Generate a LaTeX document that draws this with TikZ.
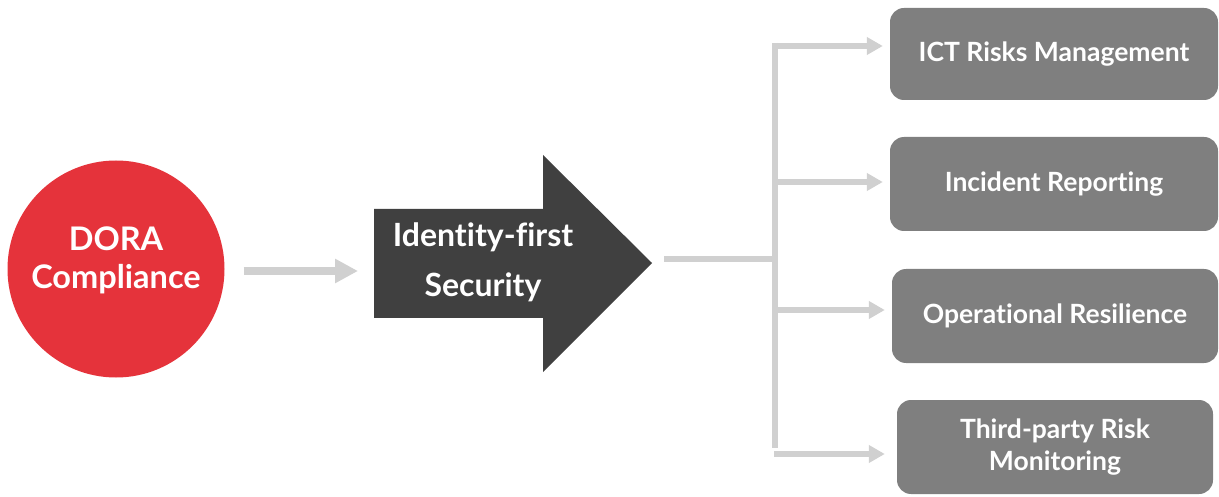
\documentclass[tikz,border=0pt]{standalone}
\usepackage{fontspec}
\setmainfont{Lato}[Ligatures=NoCommon]
\usetikzlibrary{arrows.meta,calc}
\definecolor{dorared}{HTML}{E5333B}
\definecolor{darkarrow}{HTML}{404040}
\definecolor{boxgrey}{HTML}{7F7F7F}
\definecolor{linegrey}{HTML}{D0D0D0}
\begin{document}
\begin{tikzpicture}[x=1pt,y=-1pt,
  conn/.style={draw=linegrey,line width=6pt},
  connarrow/.style={conn,-{Triangle[length=16pt,width=17pt]}},
  itembox/.style={fill=boxgrey,rounded corners=14pt,text=white,font=\bfseries\fontsize{26.5}{32}\selectfont,align=center,inner sep=0pt},
  ]
\useasboundingbox (0,0) rectangle (1219,497);
% circle
\node[circle,fill=dorared,minimum size=217pt,inner sep=0pt] (dora) at (116,269) {};
\node[text=white,align=center,font=\bfseries\fontsize{32.5}{38}\selectfont] (doratext) at (116,260) {DORA\\Compliance};
% big arrow
\fill[darkarrow] (374,209) -- (543,209) -- (543,155) -- (652,263) -- (543,372) -- (543,318) -- (374,318) -- cycle;
\node[text=white,align=center,font=\bfseries\fontsize{32}{50}\selectfont] (ifs) at (483,262) {Identity-first\\Security};
\coordinate (big) at (374,271);
% small arrow
\draw[draw=linegrey,line width=8pt,-{Triangle[length=23pt,width=23pt]},shorten <=19pt,shorten >=16pt] (dora.east |- big) -- (big);
% boxes
\node[itembox,minimum width=328pt,minimum height=92pt] (b1) at (1054,54) {ICT Risks Management};
\node[itembox,minimum width=328pt,minimum height=94pt] (b2) at (1054,184) {Incident Reporting};
\node[itembox,minimum width=326pt,minimum height=94pt] (b3) at (1055,316) {Operational Resilience};
\node[itembox,minimum width=316pt,minimum height=94pt] (b4) at (1055,447) {Third-party Risk\\Monitoring};
% connectors
\coordinate (start) at (664,259);
\coordinate (hub) at (775,259);
\coordinate (vtop) at (775,43);
\coordinate (vbot) at (775,448);
\coordinate (c1) at (772,46);
\coordinate (c2) at (775,182);
\coordinate (c3) at (775,310);
\coordinate (c4) at (774,454);
\draw[conn] (start) -- (hub);
\draw[conn] (vtop) -- (vbot);
\draw[connarrow,shorten >=7pt] (c1) -- (b1.west |- c1);
\draw[connarrow,shorten >=7pt] (c2) -- (b2.west |- c2);
\draw[connarrow,shorten >=7pt] (c3) -- (b3.west |- c3);
\draw[connarrow,shorten >=12pt] (c4) -- (b4.west |- c4);
\end{tikzpicture}
\end{document}
